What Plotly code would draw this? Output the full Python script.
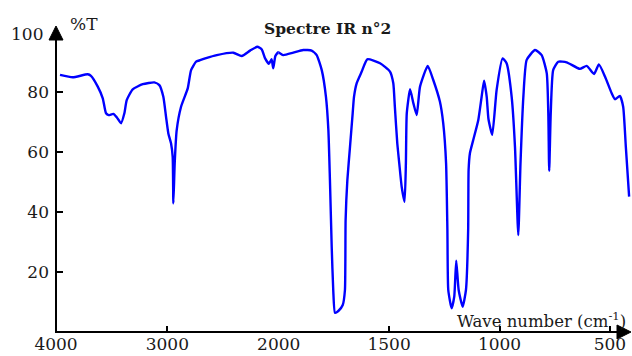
import plotly.graph_objects as go

wavenumber = [3964, 3850, 3715, 3686, 3625, 3580, 3551, 3527, 3485, 3455, 3416, 3386, 3365, 3311,
              3221, 3117, 3072, 3036, 3012, 2991, 2967, 2952, 2946, 2934, 2916, 2877, 2817, 2787,
              2742, 2706, 2652, 2556, 2407, 2332, 2257, 2192, 2152, 2122, 2088, 2064, 2049, 2030,
              2004, 1994, 1979, 1934, 1889, 1851, 1828, 1805, 1786, 1775, 1768, 1760, 1753, 1745,
              1730, 1710, 1700, 1697, 1689, 1677, 1665, 1659, 1647, 1624, 1599, 1541, 1496, 1481,
              1474, 1463, 1454, 1443, 1430, 1424, 1420, 1405, 1390, 1375, 1360, 1325, 1300, 1270,
              1255, 1242, 1236, 1232, 1217, 1205, 1196, 1185, 1167, 1152, 1142, 1140, 1134, 1119,
              1096, 1081, 1070, 1058, 1050, 1033, 1013, 986, 968, 945, 930, 915, 905, 892, 877,
              839, 809, 786, 779, 775, 768, 757, 734, 696, 636, 605, 572, 550, 522, 492, 477,
              455, 440, 428, 413]
transmittance = [85.7, 84.9, 85.9, 85.4, 81.8, 77.9, 72.9, 72.3, 72.7, 71.6, 69.6, 72.9, 77.3, 80.9,
                 82.6, 83.2, 82.3, 78.4, 71.8, 66.2, 62.9, 58.4, 42.9, 56.2, 67.3, 75.1, 81.2, 87.3,
                 90.1, 90.6, 91.3, 92.3, 93.1, 92.0, 93.8, 95.1, 94.2, 91.2, 89.4, 90.9, 87.9, 92.0,
                 93.3, 92.9, 92.3, 93.1, 94.0, 93.8, 92.3, 87.3, 78.4, 67.3, 50.7, 28.4, 14.0, 6.4,
                 7.0, 9.0, 14.0, 37.3, 50.7, 61.8, 72.9, 78.4, 82.9, 86.8, 90.9, 89.6, 86.8, 82.9,
                 75.1, 62.9, 56.2, 48.4, 43.4, 56.2, 72.9, 80.9, 76.2, 72.3, 81.8, 88.7, 84.0, 76.8,
                 69.6, 56.2, 34.0, 14.0, 7.9, 11.8, 23.8, 14.0, 8.4, 14.0, 34.0, 54.0, 59.6, 64.0,
                 70.7, 78.4, 83.8, 78.4, 71.0, 65.7, 80.7, 91.2, 89.6, 78.4, 61.8, 32.3, 56.2, 78.4, 90.7,
                 94.0, 92.3, 86.2, 72.9, 53.7, 72.9, 87.3, 90.1, 89.9, 87.7, 88.7, 86.0, 89.2, 85.1, 79.6, 77.6,
                 78.7, 75.1, 61.8, 45.1]

ticks_high = [4000, 3000]
ticks_low = [2000, 1500, 1000, 500]
y_ticks = [20, 40, 60, 80]

W, H = 632, 356
L, R, T, B = 56, 0, 32, 24
pw = W - L - R
ph = H - T - B
split = (278.7 - 56) / pw


def px(x):
    return (x - L) / pw


def py(y):
    return (H - B - y) / ph


serif = "DejaVu Serif"
tick_font = dict(family=serif, size=17, color="#1a1a1a")
line_style = dict(color="#0000ff", width=2.4, shape="spline", smoothing=0.5)

fig = go.Figure()
fig.add_trace(go.Scatter(x=wavenumber, y=transmittance, mode="lines", line=line_style,
                         xaxis="x", yaxis="y", showlegend=False, hoverinfo="skip"))
fig.add_trace(go.Scatter(x=wavenumber, y=transmittance, mode="lines", line=line_style,
                         xaxis="x2", yaxis="y", showlegend=False, hoverinfo="skip"))

xcommon = dict(showgrid=False, zeroline=False, showline=False, ticks="inside", ticklen=6,
               tickwidth=2, tickcolor="black", tickfont=tick_font, anchor="y", fixedrange=True)
fig.update_layout(
    width=W, height=H,
    margin=dict(l=L, r=R, t=T, b=B, pad=0),
    paper_bgcolor="white", plot_bgcolor="white",
    xaxis=dict(domain=[0, split], range=[4000, 2000], tickvals=ticks_high,
               ticktext=[str(v) for v in ticks_high], **xcommon),
    xaxis2=dict(domain=[split, 1], range=[2000, 400], tickvals=ticks_low,
                ticktext=[str(v) for v in ticks_low], **xcommon),
    yaxis=dict(range=[0, 100], tickvals=y_ticks, ticktext=[str(v) for v in y_ticks],
               showgrid=False, zeroline=False, showline=False, ticks="inside", ticklen=7,
               tickwidth=2, tickcolor="black", tickfont=tick_font, ticklabelstandoff=6,
               fixedrange=True),
)

# axis lines with arrow heads
ax_line = dict(color="black", width=2)
fig.add_shape(type="line", xref="paper", yref="paper", x0=px(55), y0=py(332), x1=px(620),
              y1=py(332), line=ax_line, layer="above")
fig.add_shape(type="line", xref="paper", yref="paper", x0=px(56), y0=py(333), x1=px(56),
              y1=py(38), line=ax_line, layer="above")
fig.add_shape(type="path", xref="paper", yref="paper",
              path=f"M {px(617)} {py(325)} L {px(631)} {py(332)} L {px(617)} {py(339)} Z",
              fillcolor="black", line=dict(color="black", width=1), layer="above")
fig.add_shape(type="path", xref="paper", yref="paper",
              path=f"M {px(49)} {py(40)} L {px(56)} {py(26)} L {px(63)} {py(40)} Z",
              fillcolor="black", line=dict(color="black", width=1), layer="above")

# texts
fig.add_annotation(xref="paper", yref="y", x=0, y=100, xanchor="right", yanchor="middle",
                   xshift=-11, yshift=-2, text="100", showarrow=False, font=tick_font)
fig.add_annotation(xref="paper", yref="paper", x=px(68), y=py(24),
                   xanchor="left", yanchor="middle", text="%T", showarrow=False,
                   font=dict(family=serif, size=17, color="#1a1a1a"))
fig.add_annotation(xref="paper", yref="paper", x=px(327), y=py(29),
                   xanchor="center", yanchor="middle", text="<b>Spectre IR n°2</b>",
                   showarrow=False, font=dict(family=serif, size=15.5, color="#1a1a1a"))
fig.add_annotation(xref="paper", yref="paper", x=px(628), y=py(320),
                   xanchor="right", yanchor="middle", text="Wave number (cm<sup>-1</sup>)",
                   showarrow=False, font=dict(family=serif, size=16.5, color="#1a1a1a"))

fig.write_html("out.html", config={"displayModeBar": False},
               post_script="document.body.style.margin='0';document.body.style.overflow='hidden';")
